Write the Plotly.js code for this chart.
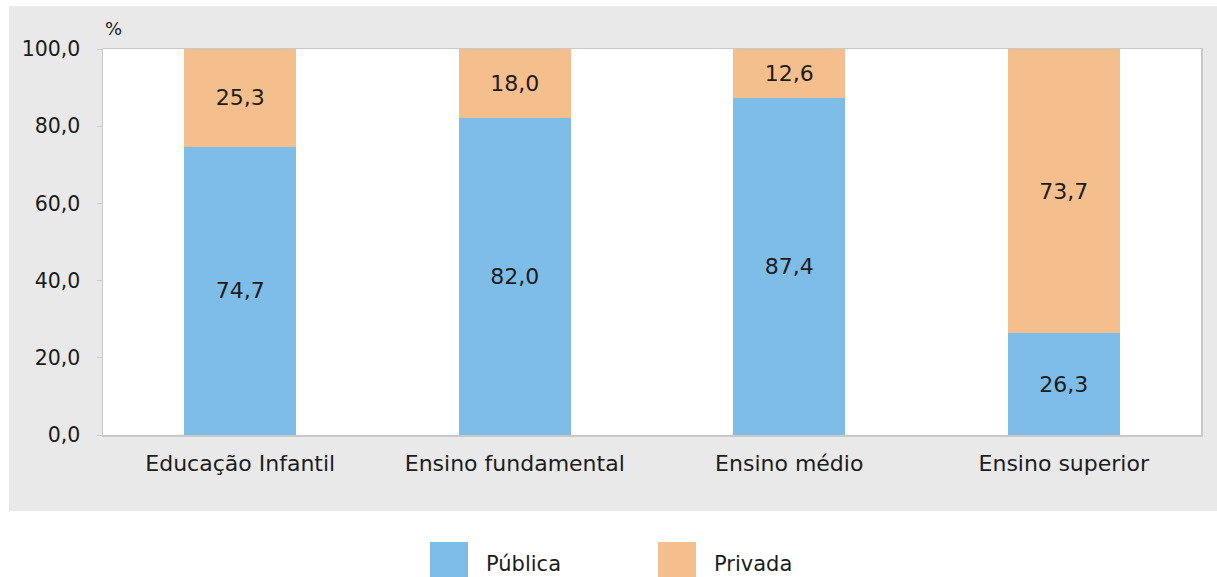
<!DOCTYPE html>
<html>
<head>
<meta charset="utf-8">
<script src="https://cdn.plot.ly/plotly-3.0.1.min.js"></script>
<style>html,body{margin:0;padding:0;background:#fff;}#chart{width:1217px;height:577px;}</style>
</head>
<body>
<div id="chart"></div>
<script>
const categories = ['Educação Infantil', 'Ensino fundamental', 'Ensino médio', 'Ensino superior'];
const publica = [74.7, 82.0, 87.4, 26.3];
const privada = [25.3, 18.0, 12.6, 73.7];
const seriesNames = ['Pública', 'Privada'];
const seriesColors = ['#7dbde8', '#f5be8d'];
const yTicks = [0, 20, 40, 60, 80, 100];

const fmt = v => v.toFixed(1).replace('.', ',');
const FONT = 'DejaVu Sans, sans-serif';
const TXT = '#1c1c1c';

const traces = [publica, privada].map((vals, i) => ({
  type: 'bar',
  name: seriesNames[i],
  x: categories,
  y: vals,
  text: vals.map(fmt),
  textposition: 'inside',
  insidetextanchor: 'middle',
  textangle: 0,
  constraintext: 'none',
  textfont: {family: FONT, size: 22, color: TXT},
  marker: {color: seriesColors[i], line: {width: 0}},
  hoverinfo: 'skip',
  showlegend: false
}));

// legend drawn as shapes + annotations (large swatches)
const legX = [0.2978, 0.5055];
const legW = 0.0346;
const legendShapes = seriesNames.map((n, i) => ({
  type: 'rect', xref: 'paper', yref: 'paper', layer: 'above',
  x0: legX[i], x1: legX[i] + legW, y0: -0.38, y1: -0.2772,
  fillcolor: seriesColors[i], line: {width: 0}
}));
const legendAnn = seriesNames.map((n, i) => ({
  text: n, xref: 'paper', yref: 'paper', x: legX[i] + legW + 0.015, y: -0.334,
  xanchor: 'left', yanchor: 'middle', showarrow: false,
  font: {family: FONT, size: 21, color: TXT}
}));

const layout = {
  width: 1217, height: 577,
  margin: {l: 103, r: 16, t: 49, b: 142},
  paper_bgcolor: '#ffffff',
  plot_bgcolor: '#ffffff',
  separators: ',.',
  barmode: 'stack',
  bargap: 0.592,
  showlegend: false,
  font: {family: FONT, color: TXT},
  xaxis: {
    type: 'category', showgrid: false, zeroline: false,
    showline: true, linecolor: '#c9c9c9', linewidth: 1.5, mirror: true,
    ticks: '', ticklabelstandoff: 8,
    tickfont: {family: FONT, size: 22, color: TXT}
  },
  yaxis: {
    range: [0, 100], tickvals: yTicks, tickformat: '.1f',
    showgrid: false, zeroline: false,
    showline: true, linecolor: '#c9c9c9', linewidth: 1.5, mirror: true,
    ticks: 'outside', ticklen: 5, tickcolor: '#c9c9c9',
    ticklabelstandoff: 12,
    tickfont: {family: FONT, size: 20.5, color: TXT}
  },
  shapes: [
    {type: 'rect', xref: 'paper', yref: 'paper', layer: 'below',
     x0: -0.0856, x1: 1.02, y0: -0.197, y1: 1.111,
     fillcolor: '#e9e9e9', line: {width: 0}},
    {type: 'rect', xref: 'paper', yref: 'paper', layer: 'below',
     x0: 0, x1: 1, y0: 0, y1: 1, fillcolor: '#ffffff', line: {width: 0}}
  ].concat(legendShapes),
  annotations: [
    {text: '%', xref: 'paper', yref: 'paper', x: 0.0, y: 1.052,
     xanchor: 'left', yanchor: 'middle', showarrow: false,
     font: {family: FONT, size: 18, color: TXT}}
  ].concat(legendAnn)
};

Plotly.newPlot('chart', traces, layout, {displayModeBar: false, staticPlot: true});
</script>
</body>
</html>
